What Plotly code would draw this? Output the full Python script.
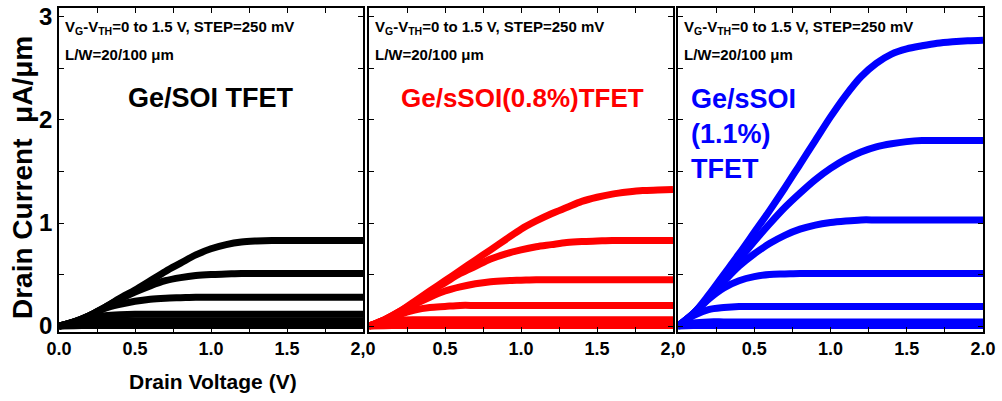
import plotly.graph_objects as go

vd = [0.0, 0.1, 0.2, 0.3, 0.4, 0.5, 0.6, 0.7, 0.8, 0.9, 1.0,
      1.1, 1.2, 1.3, 1.4, 1.5, 1.6, 1.7, 1.8, 1.9, 2.0]

# Ge/SOI TFET (black), VG-VTH = 1.5 ... 0 V
ge_soi = [
    [0, 0.04, 0.10, 0.18, 0.27, 0.35, 0.44, 0.53, 0.61, 0.69, 0.75, 0.79, 0.815, 0.825, 0.83, 0.83, 0.83, 0.83, 0.83, 0.83, 0.83],
    [0, 0.04, 0.10, 0.18, 0.26, 0.33, 0.39, 0.44, 0.47, 0.49, 0.50, 0.505, 0.51, 0.51, 0.51, 0.51, 0.51, 0.51, 0.51, 0.51, 0.51],
    [0, 0.04, 0.10, 0.17, 0.21, 0.24, 0.26, 0.27, 0.275, 0.28, 0.28, 0.28, 0.28, 0.28, 0.28, 0.28, 0.28, 0.28, 0.28, 0.28, 0.28],
    [0, 0.04, 0.08, 0.10, 0.11, 0.115, 0.115, 0.115, 0.115, 0.115, 0.115, 0.115, 0.115, 0.115, 0.115, 0.115, 0.115, 0.115, 0.115, 0.115, 0.115],
    [0, 0.03, 0.045, 0.05, 0.05, 0.05, 0.05, 0.05, 0.05, 0.05, 0.05, 0.05, 0.05, 0.05, 0.05, 0.05, 0.05, 0.05, 0.05, 0.05, 0.05],
    [0, 0.015, 0.02, 0.02, 0.02, 0.02, 0.02, 0.02, 0.02, 0.02, 0.02, 0.02, 0.02, 0.02, 0.02, 0.02, 0.02, 0.02, 0.02, 0.02, 0.02],
    [0, 0.003, 0.005, 0.005, 0.005, 0.005, 0.005, 0.005, 0.005, 0.005, 0.005, 0.005, 0.005, 0.005, 0.005, 0.005, 0.005, 0.005, 0.005, 0.005, 0.005],
]

# Ge/sSOI (0.8%) TFET (red)
ge_ssoi08 = [
    [0, 0.06, 0.14, 0.24, 0.34, 0.44, 0.54, 0.64, 0.74, 0.84, 0.94, 1.02, 1.09, 1.15, 1.21, 1.25, 1.28, 1.30, 1.315, 1.32, 1.325],
    [0, 0.06, 0.14, 0.23, 0.33, 0.42, 0.51, 0.58, 0.65, 0.70, 0.74, 0.77, 0.79, 0.81, 0.82, 0.825, 0.83, 0.83, 0.83, 0.83, 0.83],
    [0, 0.06, 0.13, 0.21, 0.28, 0.34, 0.38, 0.41, 0.43, 0.44, 0.445, 0.45, 0.45, 0.45, 0.45, 0.45, 0.45, 0.45, 0.45, 0.45, 0.45],
    [0, 0.05, 0.11, 0.155, 0.18, 0.19, 0.20, 0.20, 0.20, 0.20, 0.20, 0.20, 0.20, 0.20, 0.20, 0.20, 0.20, 0.20, 0.20, 0.20, 0.20],
    [0, 0.035, 0.055, 0.06, 0.06, 0.06, 0.06, 0.06, 0.06, 0.06, 0.06, 0.06, 0.06, 0.06, 0.06, 0.06, 0.06, 0.06, 0.06, 0.06, 0.06],
    [0, 0.015, 0.02, 0.02, 0.02, 0.02, 0.02, 0.02, 0.02, 0.02, 0.02, 0.02, 0.02, 0.02, 0.02, 0.02, 0.02, 0.02, 0.02, 0.02, 0.02],
    [0, 0.003, 0.005, 0.005, 0.005, 0.005, 0.005, 0.005, 0.005, 0.005, 0.005, 0.005, 0.005, 0.005, 0.005, 0.005, 0.005, 0.005, 0.005, 0.005, 0.005],
]

# Ge/sSOI (1.1%) TFET (blue)
ge_ssoi11 = [
    [0, 0.12, 0.30, 0.50, 0.70, 0.91, 1.12, 1.34, 1.57, 1.80, 2.03, 2.24, 2.42, 2.55, 2.64, 2.69, 2.72, 2.745, 2.76, 2.77, 2.775],
    [0, 0.12, 0.28, 0.46, 0.64, 0.82, 0.99, 1.15, 1.29, 1.42, 1.53, 1.62, 1.69, 1.74, 1.77, 1.79, 1.80, 1.80, 1.80, 1.80, 1.80],
    [0, 0.12, 0.27, 0.43, 0.58, 0.70, 0.80, 0.88, 0.94, 0.98, 1.005, 1.02, 1.03, 1.03, 1.03, 1.03, 1.03, 1.03, 1.03, 1.03, 1.03],
    [0, 0.12, 0.26, 0.37, 0.44, 0.48, 0.50, 0.505, 0.51, 0.51, 0.51, 0.51, 0.51, 0.51, 0.51, 0.51, 0.51, 0.51, 0.51, 0.51, 0.51],
    [0, 0.10, 0.16, 0.18, 0.19, 0.19, 0.19, 0.19, 0.19, 0.19, 0.19, 0.19, 0.19, 0.19, 0.19, 0.19, 0.19, 0.19, 0.19, 0.19, 0.19],
    [0, 0.03, 0.04, 0.04, 0.04, 0.04, 0.04, 0.04, 0.04, 0.04, 0.04, 0.04, 0.04, 0.04, 0.04, 0.04, 0.04, 0.04, 0.04, 0.04, 0.04],
    [0, 0.004, 0.006, 0.006, 0.006, 0.006, 0.006, 0.006, 0.006, 0.006, 0.006, 0.006, 0.006, 0.006, 0.006, 0.006, 0.006, 0.006, 0.006, 0.006, 0.006],
]

x_tickvals = [0, 0.5, 1.0, 1.5, 2.0]
x_ticktext = [
    ["0.0", "0.5", "1.0", "1.5", "2,0"],
    ["", "0.5", "1.0", "1.5", "2,0"],
    ["", "0.5", "1.0", "1.5", "2.0"],
]
y_tickvals = [0, 1, 2, 3]
y_ticktext = ["0", "1", "2", "3"]

panel_titles = ["Ge/SOI TFET", "Ge/sSOI(0.8%)TFET", "Ge/sSOI<br>(1.1%)<br>TFET"]
colors = ["#000000", "#ff0000", "#0000ff"]
cond_text = "V<sub>G</sub>-V<sub>TH</sub>=0 to 1.5 V, STEP=250 mV"
lw_text = "L/W=20/100 \u03bcm"

W, H = 1002, 401
dom_px = [(59, 363), (369, 673), (678, 983)]
y_top, y_bot = 8, 332

SANS = "Liberation Sans, Arial, sans-serif"

fig = go.Figure()
datasets = [ge_soi, ge_ssoi08, ge_ssoi11]
for p, (data, col) in enumerate(zip(datasets, colors)):
    suffix = "" if p == 0 else str(p + 1)
    for curve in data:
        fig.add_trace(go.Scatter(
            x=vd, y=curve, mode="lines",
            line=dict(color=col, width=7, shape="spline", smoothing=0.9),
            xaxis="x" + suffix, yaxis="y" + suffix, showlegend=False, hoverinfo="skip"))

layout = dict(width=W, height=H, margin=dict(l=0, r=0, t=0, b=0),
              paper_bgcolor="white", plot_bgcolor="white", showlegend=False)

ydom = [(H - y_bot) / H, (H - y_top) / H]
for p in range(3):
    suffix = "" if p == 0 else str(p + 1)
    x0, x1 = dom_px[p]
    layout["xaxis" + suffix] = dict(
        domain=[x0 / W, x1 / W], range=[0, 2], anchor="y" + suffix,
        showline=True, linecolor="black", linewidth=1.5, mirror="ticks",
        showgrid=False, zeroline=False, automargin=False,
        ticks="inside", ticklen=5, tickwidth=1.2, tickcolor="black",
        tickmode="array", tickvals=x_tickvals, ticktext=x_ticktext[p],
        tickfont=dict(family=SANS, size=18, color="black", weight="bold"),
        minor=dict(tickvals=[0.25, 0.75, 1.25, 1.75], ticks="inside", ticklen=5,
                   tickwidth=1.2, tickcolor="black"),
    )
    layout["yaxis" + suffix] = dict(
        domain=ydom, range=[-0.058, 3.087], anchor="x" + suffix,
        showline=True, linecolor="black", linewidth=1.5, mirror="ticks",
        showgrid=False, zeroline=False, automargin=False,
        ticks="inside", ticklen=5, tickwidth=1.2, tickcolor="black",
        tickmode="array", tickvals=y_tickvals,
        ticktext=y_ticktext if p == 0 else ["", "", "", ""],
        showticklabels=(p == 0),
        tickfont=dict(family=SANS, size=24, color="black", weight="bold"),
        minor=dict(tickvals=[0.5, 1.5, 2.5], ticks="inside", ticklen=5,
                   tickwidth=1.2, tickcolor="black"),
    )

fig.update_layout(**layout)

ann = []
for p in range(3):
    x0, x1 = dom_px[p]
    ann.append(dict(x=(x0 + 4) / W, y=(H - 27) / H, xref="paper", yref="paper",
                    text=cond_text, showarrow=False, xanchor="left", yanchor="middle",
                    font=dict(family=SANS, size=15, color="black", weight="bold")))
    ann.append(dict(x=(x0 + 4) / W, y=(H - 54) / H, xref="paper", yref="paper",
                    text=lw_text, showarrow=False, xanchor="left", yanchor="middle",
                    font=dict(family=SANS, size=15, color="black", weight="bold")))

ann.append(dict(x=211 / W, y=(H - 98) / H, xref="paper", yref="paper", text=panel_titles[0],
                showarrow=False, xanchor="center", yanchor="middle",
                font=dict(family=SANS, size=27, color=colors[0], weight="bold")))
ann.append(dict(x=522 / W, y=(H - 98) / H, xref="paper", yref="paper", text=panel_titles[1],
                showarrow=False, xanchor="center", yanchor="middle",
                font=dict(family=SANS, size=26, color=colors[1], weight="bold")))
ann.append(dict(x=689 / W, y=(H - 134) / H, xref="paper", yref="paper", text=panel_titles[2],
                showarrow=False, xanchor="left", yanchor="middle", align="left",
                font=dict(family=SANS, size=27, color=colors[2], weight="bold")))

ann.append(dict(x=22 / W, y=(H - 178) / H, xref="paper", yref="paper",
                text="Drain Current\u00a0\u00a0\u03bcA/\u03bcm", textangle=-90, showarrow=False,
                xanchor="center", yanchor="middle",
                font=dict(family=SANS, size=28, color="black", weight="bold")))
ann.append(dict(x=213 / W, y=(H - 381) / H, xref="paper", yref="paper",
                text="Drain Voltage (V)", showarrow=False,
                xanchor="center", yanchor="middle",
                font=dict(family=SANS, size=21, color="black", weight="bold")))
fig.update_layout(annotations=ann)

fig.write_html("out.html", config={"displayModeBar": False},
               post_script="document.body.style.margin='0';")
